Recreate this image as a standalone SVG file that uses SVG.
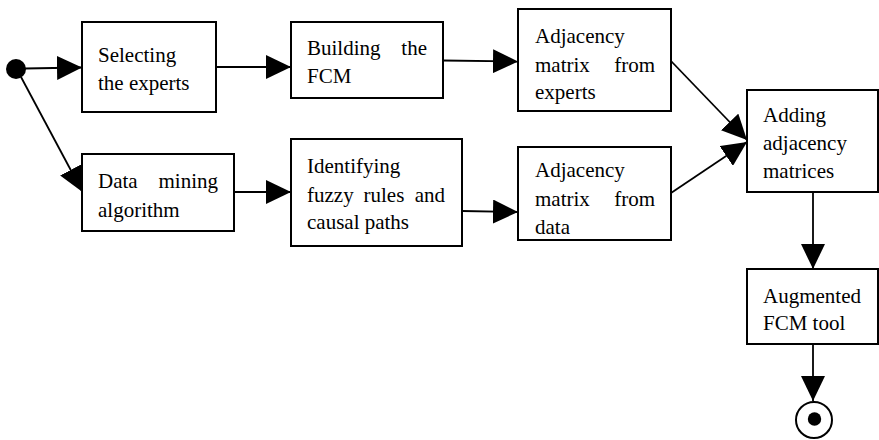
<svg xmlns="http://www.w3.org/2000/svg" width="879" height="440" viewBox="0 0 879 440">
  <style>
    .box { fill: #ffffff; stroke: #000000; stroke-width: 2; }
    .lbl { font-family: "Liberation Serif", "Times New Roman", serif; font-size: 21px; fill: #000000; }
    .edge { fill: none; stroke: #000000; stroke-width: 1.8; marker-end: url(#arrow); }
  </style>
  <defs>
    <marker id="arrow" viewBox="0 0 25 24" refX="25" refY="12" markerWidth="25" markerHeight="24" markerUnits="userSpaceOnUse" orient="auto">
      <path d="M0,0 L25,12 L0,24 Z" fill="#000000"/>
    </marker>
    <clipPath id="clipData">
      <rect x="518" y="147" width="153" height="87.5"/>
    </clipPath>
  </defs>
  <rect x="0" y="0" width="879" height="440" fill="#ffffff"/>

  <g id="connectors">
    <line class="edge" x1="25" y1="68.5" x2="82" y2="67.5"/>
    <line class="edge" x1="21" y1="77" x2="82.5" y2="192"/>
    <line class="edge" x1="216" y1="67" x2="291" y2="67"/>
    <line class="edge" x1="443" y1="60.5" x2="518" y2="61.5"/>
    <line class="edge" x1="234" y1="192" x2="291" y2="192"/>
    <line class="edge" x1="462" y1="211" x2="518" y2="212"/>
    <line class="edge" x1="671" y1="61" x2="747" y2="140"/>
    <line class="edge" x1="671" y1="193" x2="747" y2="142"/>
    <line class="edge" x1="813" y1="192" x2="813" y2="269"/>
    <line class="edge" x1="813" y1="344" x2="813" y2="401"/>
  </g>

  <g id="start">
    <circle cx="16" cy="69" r="10" fill="#000000"/>
  </g>

  <g id="selecting-experts">
    <rect class="box" x="82" y="22" width="134" height="90"/>
    <text class="lbl"><tspan x="98" y="62">Selecting</tspan><tspan x="98" y="90">the experts</tspan></text>
  </g>

  <g id="building-fcm">
    <rect class="box" x="291" y="22" width="152" height="76"/>
    <text class="lbl"><tspan x="307" y="55">Building</tspan><tspan x="427" y="55" text-anchor="end">the</tspan><tspan x="307" y="83">FCM</tspan></text>
  </g>

  <g id="adjacency-experts">
    <rect class="box" x="518" y="9" width="153" height="102"/>
    <text class="lbl"><tspan x="535" y="43">Adjacency</tspan><tspan x="535" y="72">matrix</tspan><tspan x="655" y="72" text-anchor="end">from</tspan><tspan x="535" y="99">experts</tspan></text>
  </g>

  <g id="data-mining">
    <rect class="box" x="82" y="154" width="152" height="77"/>
    <text class="lbl"><tspan x="98" y="188">Data</tspan><tspan x="218" y="188" text-anchor="end">mining</tspan><tspan x="98" y="217">algorithm</tspan></text>
  </g>

  <g id="identifying-rules">
    <rect class="box" x="291" y="139" width="171" height="107"/>
    <text class="lbl"><tspan x="307" y="173">Identifying</tspan><tspan x="307" y="202">fuzzy</tspan><tspan x="363.5" y="202">rules</tspan><tspan x="445" y="202" text-anchor="end">and</tspan><tspan x="307" y="229">causal paths</tspan></text>
  </g>

  <g id="adjacency-data">
    <rect class="box" x="518" y="147" width="153" height="93"/>
    <text class="lbl" clip-path="url(#clipData)"><tspan x="535" y="177">Adjacency</tspan><tspan x="535" y="206">matrix</tspan><tspan x="655" y="206" text-anchor="end">from</tspan><tspan x="535" y="234">data</tspan></text>
  </g>

  <g id="adding-matrices">
    <rect class="box" x="747" y="90" width="131" height="102"/>
    <text class="lbl"><tspan x="763" y="122">Adding</tspan><tspan x="763" y="150">adjacency</tspan><tspan x="763" y="178">matrices</tspan></text>
  </g>

  <g id="augmented-fcm">
    <rect class="box" x="747" y="269" width="131" height="75"/>
    <text class="lbl"><tspan x="763" y="303">Augmented</tspan><tspan x="763" y="330">FCM tool</tspan></text>
  </g>

  <g id="end">
    <circle cx="814" cy="420" r="18" fill="#ffffff" stroke="#000000" stroke-width="2"/>
    <circle cx="814.5" cy="419" r="6.7" fill="#000000"/>
  </g>
</svg>
